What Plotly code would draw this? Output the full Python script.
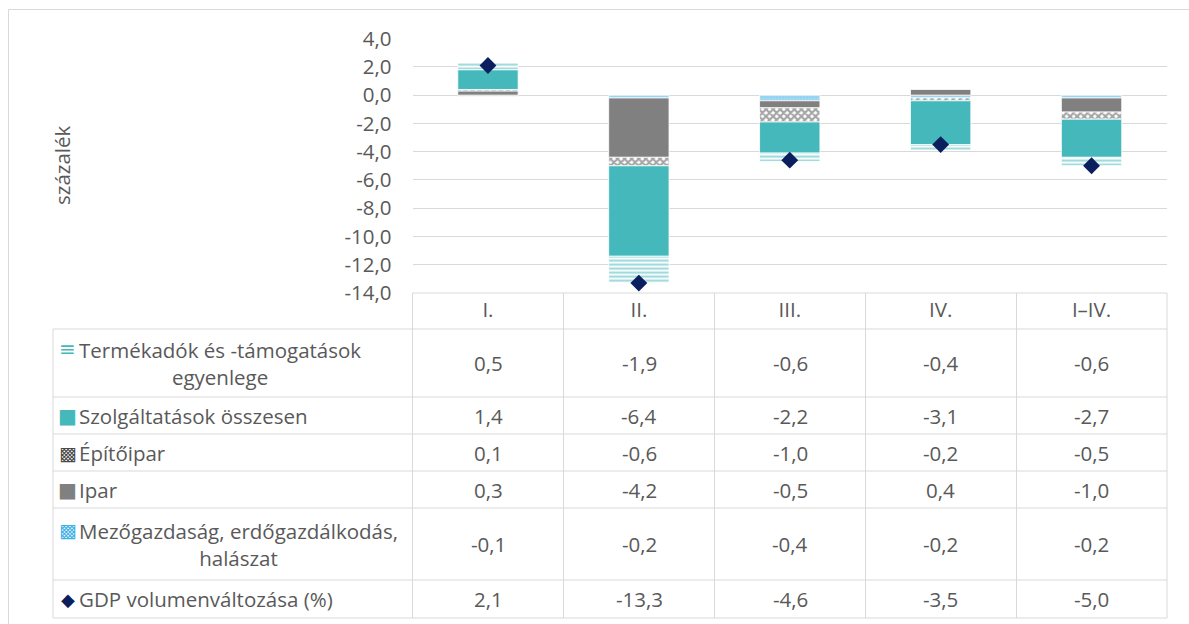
import plotly.graph_objects as go

# ---------------- data ----------------
categories = ["I.", "II.", "III.", "IV.", "I–IV."]
mezo = [-0.1, -0.2, -0.4, -0.2, -0.2]
ipar = [0.3, -4.2, -0.5, 0.4, -1.0]
epito = [0.1, -0.6, -1.0, -0.2, -0.5]
szolg = [1.4, -6.4, -2.2, -3.1, -2.7]
termek = [0.5, -1.9, -0.6, -0.4, -0.6]
gdp = [2.1, -13.3, -4.6, -3.5, -5.0]

name_termek = "Termékadók és -támogatások<br>egyenlege"
name_szolg = "Szolgáltatások összesen"
name_epito = "Építőipar"
name_ipar = "Ipar"
name_mezo = "Mezőgazdaság, erdőgazdálkodás,<br>halászat"
name_gdp = "GDP volumenváltozása (%)"

y_tickvals = [4, 2, 0, -2, -4, -6, -8, -10, -12, -14]
y_title = "százalék"

# ---------------- style ----------------
W, H = 1189, 624
FONT = "Open Sans"
FS = 20.5
TXT = "#595959"
GRID = "#D9D9D9"
TEAL = "#45B8BC"
GREY = "#808080"
DGREY = "#4A4A4A"
LBLUE = "#3DB0E6"
NAVY = "#0B1F5E"

def X(px):
    return px / W

def Y(py):
    return 1 - py / H

plot_x0, plot_x1 = 412.5, 1167
plot_y0, plot_y1 = 38.6, 293
col_edges = [53, 412.5, 563.5, 714.5, 865.5, 1016.5, 1167]
row_edges = [293, 329, 397, 434, 471, 508, 580, 618]

def fmt(v):
    return f"{v:.1f}".replace(".", ",")

fig = go.Figure()

line_w = dict(color="white", width=0.8)
fig.add_trace(go.Bar(x=categories, y=mezo, name="mezo",
                     marker=dict(color="#BFE5F6", line=line_w,
                                 pattern=dict(shape=".", fgcolor=LBLUE, bgcolor="#BFE5F6",
                                              size=3, solidity=0.6))))
fig.add_trace(go.Bar(x=categories, y=ipar, name="ipar",
                     marker=dict(color=GREY, line=line_w)))
fig.add_trace(go.Bar(x=categories, y=epito, name="epito",
                     marker=dict(color="white", line=line_w,
                                 pattern=dict(shape="x", fgcolor=DGREY, bgcolor="white",
                                              size=5, solidity=0.65))))
fig.add_trace(go.Bar(x=categories, y=szolg, name="szolg",
                     marker=dict(color=TEAL, line=line_w)))
fig.add_trace(go.Bar(x=categories, y=termek, name="termek",
                     marker=dict(color="white", line=line_w,
                                 pattern=dict(shape="-", fgcolor=TEAL, bgcolor="white",
                                              size=4, solidity=0.55))))
fig.add_trace(go.Scatter(x=categories, y=gdp, mode="markers", name="gdp",
                         marker=dict(symbol="diamond", size=13, color=NAVY)))

shapes = []
def hline(y, x0, x1):
    shapes.append(dict(type="line", xref="paper", yref="paper",
                       x0=X(x0), x1=X(x1), y0=Y(y), y1=Y(y),
                       line=dict(color=GRID, width=1)))
def vline(x, y0, y1):
    shapes.append(dict(type="line", xref="paper", yref="paper",
                       x0=X(x), x1=X(x), y0=Y(y0), y1=Y(y1),
                       line=dict(color=GRID, width=1)))

# outer chart border (top & left visible)
hline(9.5, 8.5, W + 20)
vline(8.5, 9.5, H + 20)

# table grid
hline(row_edges[0], col_edges[1], col_edges[-1])
for r in row_edges[1:]:
    hline(r, col_edges[0], col_edges[-1])
vline(col_edges[0], row_edges[1], row_edges[-1])
for c in col_edges[1:]:
    vline(c, row_edges[0], row_edges[-1])

annotations = []
rows = [
    (name_termek, termek, "≡", TEAL, 20),
    (name_szolg, szolg, "■", TEAL, 20),
    (name_epito, epito, "▩", DGREY, 19),
    (name_ipar, ipar, "■", GREY, 20),
    (name_mezo, mezo, "▩", LBLUE, 19),
    (name_gdp, gdp, "◆", NAVY, 18),
]
for i, (label, vals, glyph, gcol, gsz) in enumerate(rows):
    top, bot = row_edges[i + 1], row_edges[i + 2]
    yc = (top + bot) / 2
    two = "<br>" in label
    yfirst = yc - 14.5 if two else yc
    annotations.append(dict(x=X(67.5), y=Y(yfirst), xref="paper", yref="paper",
                            text=glyph, showarrow=False, xanchor="center", yanchor="middle",
                            font=dict(family="DejaVu Sans", size=gsz, color=gcol)))
    annotations.append(dict(x=X(76.5), y=Y(yc), xref="paper", yref="paper",
                            text=label, showarrow=False, xanchor="left", yanchor="middle",
                            align="center",
                            font=dict(family=FONT, size=FS, color=TXT)))
    for j, v in enumerate(vals):
        xc = (col_edges[j + 1] + col_edges[j + 2]) / 2
        annotations.append(dict(x=X(xc), y=Y(yc), xref="paper", yref="paper",
                                text=fmt(v), showarrow=False, xanchor="center",
                                yanchor="middle", font=dict(family=FONT, size=FS, color=TXT)))

annotations.append(dict(x=X(62), y=Y(166), xref="paper", yref="paper", text=y_title,
                        textangle=-90, showarrow=False, xanchor="center", yanchor="middle",
                        font=dict(family=FONT, size=FS, color=TXT)))

fig.update_layout(
    width=W, height=H,
    margin=dict(l=0, r=0, t=0, b=0, pad=0, autoexpand=False),
    paper_bgcolor="white", plot_bgcolor="white",
    barmode="relative", bargap=0.6,
    showlegend=False,
    font=dict(family=FONT, size=FS, color=TXT),
    shapes=shapes, annotations=annotations,
    xaxis=dict(domain=[X(plot_x0), X(plot_x1)], type="category", automargin=False,
               showgrid=False, zeroline=False, showline=False,
               ticks="", ticklabelstandoff=2,
               tickfont=dict(family=FONT, size=FS, color=TXT)),
    yaxis=dict(domain=[Y(plot_y1), Y(plot_y0)], range=[-14, 4], automargin=False,
               tickvals=y_tickvals, ticktext=[fmt(v) for v in y_tickvals],
               showgrid=True, gridcolor=GRID, gridwidth=1,
               zeroline=False, showline=False, ticks="",
               ticklabelstandoff=20,
               tickfont=dict(family=FONT, size=FS, color=TXT)),
)

fig.write_html(
    "out.html",
    config={"displayModeBar": False},
    post_script="document.body.style.margin='0';document.documentElement.style.overflow='hidden';document.body.style.overflow='hidden';",
)
